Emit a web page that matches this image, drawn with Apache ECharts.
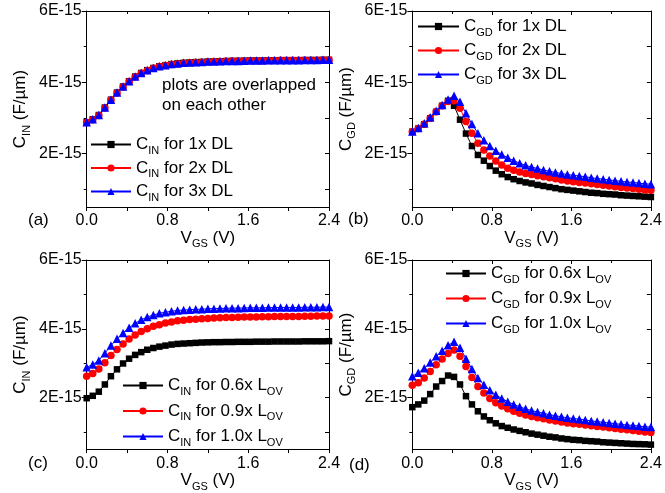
<!DOCTYPE html>
<html><head><meta charset="utf-8">
<script src="https://cdn.jsdelivr.net/npm/echarts@6/dist/echarts.min.js"></script>
<style>html,body{margin:0;padding:0;background:#fff}#c{width:665px;height:493px}</style>
</head><body><div id="c"></div>
<script>
// V_GS sample points (V)
const vgs = [0.00,0.06,0.12,0.18,0.24,0.30,0.36,0.42,0.48,0.54,0.60,0.66,0.72,0.78,0.84,0.90,0.96,1.02,1.08,1.14,1.20,1.26,1.32,1.38,1.44,1.50,1.56,1.62,1.68,1.74,1.80,1.86,1.92,1.98,2.04,2.10,2.16,2.22,2.28,2.34,2.40];

// values in units of 1E-15 F/um
// (a) C_IN for 1x / 2x / 3x DL (overlapped)
const cinA_1x = [2.88,2.96,3.08,3.29,3.51,3.71,3.88,4.03,4.16,4.26,4.34,4.40,4.45,4.48,4.51,4.53,4.545,4.555,4.565,4.57,4.58,4.585,4.59,4.595,4.60,4.60,4.605,4.61,4.61,4.61,4.615,4.615,4.62,4.62,4.62,4.62,4.625,4.625,4.625,4.63,4.63];
const cinA_2x = [2.87,2.95,3.07,3.28,3.50,3.70,3.87,4.02,4.15,4.25,4.33,4.39,4.44,4.47,4.50,4.52,4.535,4.545,4.555,4.565,4.57,4.58,4.585,4.59,4.595,4.595,4.60,4.605,4.605,4.605,4.61,4.61,4.615,4.615,4.615,4.615,4.62,4.62,4.62,4.625,4.625];
const cinA_3x = [2.88,2.96,3.08,3.29,3.51,3.71,3.88,4.03,4.16,4.26,4.34,4.40,4.45,4.48,4.51,4.53,4.545,4.555,4.565,4.57,4.58,4.585,4.59,4.595,4.60,4.60,4.605,4.61,4.61,4.61,4.615,4.615,4.62,4.62,4.62,4.62,4.625,4.625,4.625,4.63,4.63];
// (b) C_GD for 1x / 2x / 3x DL
const cgdB_1x = [2.61,2.70,2.82,2.99,3.17,3.34,3.48,3.34,2.95,2.56,2.21,1.96,1.80,1.65,1.52,1.42,1.34,1.28,1.23,1.19,1.16,1.12,1.09,1.06,1.03,1.00,0.98,0.96,0.94,0.92,0.90,0.89,0.87,0.86,0.85,0.83,0.82,0.81,0.80,0.79,0.78];
const cgdB_2x = [2.61,2.70,2.82,2.99,3.17,3.34,3.46,3.48,3.27,2.90,2.57,2.29,2.10,1.93,1.79,1.68,1.59,1.53,1.48,1.44,1.41,1.38,1.35,1.32,1.29,1.26,1.23,1.21,1.19,1.17,1.15,1.13,1.11,1.09,1.07,1.05,1.03,1.02,1.00,0.98,0.97];
const cgdB_3x = [2.62,2.72,2.85,3.02,3.20,3.36,3.52,3.62,3.45,3.13,2.83,2.57,2.37,2.21,2.08,1.97,1.88,1.80,1.73,1.67,1.62,1.58,1.54,1.50,1.47,1.44,1.41,1.39,1.37,1.35,1.32,1.30,1.28,1.26,1.24,1.22,1.20,1.19,1.17,1.15,1.14];
// (c) C_IN for 0.6x / 0.9x / 1.0x L_OV
const cinC_06 = [1.98,2.05,2.17,2.38,2.62,2.82,2.99,3.13,3.24,3.32,3.39,3.44,3.48,3.51,3.54,3.56,3.57,3.58,3.59,3.60,3.605,3.61,3.61,3.615,3.615,3.62,3.62,3.62,3.625,3.625,3.625,3.63,3.63,3.63,3.63,3.63,3.635,3.635,3.635,3.635,3.64];
const cinC_09 = [2.62,2.70,2.83,3.01,3.22,3.40,3.56,3.70,3.82,3.92,4.00,4.07,4.12,4.17,4.20,4.23,4.25,4.27,4.28,4.29,4.30,4.31,4.32,4.325,4.33,4.335,4.34,4.34,4.345,4.35,4.35,4.355,4.355,4.36,4.36,4.36,4.365,4.365,4.37,4.37,4.37];
const cinC_10 = [2.88,2.96,3.08,3.29,3.51,3.71,3.88,4.03,4.16,4.26,4.34,4.40,4.45,4.48,4.51,4.53,4.545,4.555,4.565,4.57,4.58,4.585,4.59,4.595,4.60,4.60,4.605,4.61,4.61,4.61,4.615,4.615,4.62,4.62,4.62,4.62,4.625,4.625,4.625,4.63,4.63];
// (d) C_GD for 0.6x / 0.9x / 1.0x L_OV
const cgdD_06 = [1.72,1.80,1.91,2.10,2.32,2.48,2.64,2.60,2.38,2.04,1.80,1.60,1.45,1.34,1.25,1.17,1.12,1.07,1.03,0.99,0.95,0.92,0.89,0.86,0.84,0.81,0.79,0.77,0.76,0.74,0.73,0.72,0.70,0.69,0.68,0.67,0.66,0.65,0.645,0.64,0.63];
const cgdD_09 = [2.36,2.43,2.57,2.76,2.95,3.12,3.28,3.38,3.20,2.90,2.58,2.32,2.13,1.97,1.85,1.75,1.67,1.60,1.54,1.49,1.45,1.41,1.38,1.35,1.32,1.29,1.26,1.24,1.22,1.20,1.18,1.16,1.14,1.12,1.10,1.08,1.06,1.04,1.02,1.00,0.98];
const cgdD_10 = [2.62,2.72,2.85,3.02,3.20,3.36,3.52,3.62,3.45,3.13,2.83,2.57,2.37,2.21,2.08,1.97,1.88,1.80,1.73,1.67,1.62,1.58,1.54,1.50,1.47,1.44,1.41,1.39,1.37,1.35,1.32,1.30,1.28,1.26,1.24,1.22,1.20,1.19,1.17,1.15,1.14];

// axis ticks
const yLabelValues = [2, 4, 6];
const yMinorValues = [1, 3, 5];
const yAllValues = [1, 2, 3, 4, 5, 6];
const xTickStep = 0.8;

const FONT = '"Liberation Sans", Arial, sans-serif';
const rich = {
  n: {fontSize: 17, fontFamily: FONT, color: '#000', lineHeight: 20},
  s: {fontSize: 11, fontFamily: FONT, color: '#000', lineHeight: 11, padding: [6, 0, -6, 0]}
};

const grids = [
  {left: 86.7, top: 11, width: 242.3, height: 196},
  {left: 412.3, top: 11, width: 242.7, height: 196},
  {left: 86.7, top: 260, width: 242.3, height: 195},
  {left: 412.3, top: 260, width: 242.7, height: 195}
];
const yNames = ['{n|C}{s|IN}{n| (F/µm)}', '{n|C}{s|GD}{n| (F/µm)}', '{n|C}{s|IN}{n| (F/µm)}', '{n|C}{s|GD}{n| (F/µm)}'];
const blk = {color: '#000', width: 1};

const xAxes = [], yAxes = [];
grids.forEach((g, i) => {
  xAxes.push({
    gridIndex: i, type: 'value', min: 0, max: 2.4, interval: xTickStep, position: 'bottom',
    axisLine: {onZero: false, lineStyle: blk},
    axisTick: {length: 4, lineStyle: blk},
    minorTick: {show: true, splitNumber: 2, length: 4, lineStyle: blk},
    splitLine: {show: false},
    axisLabel: {fontSize: 16, fontFamily: FONT, color: '#000', margin: 6, formatter: v => v.toFixed(1)},
    name: '{n|V}{s|GS}{n| (V)}', nameLocation: 'middle', nameGap: 12,
    nameTextStyle: {rich: rich}
  });
  xAxes.push({
    gridIndex: i, type: 'value', min: 0, max: 2.4, interval: xTickStep, position: 'top',
    axisLine: {onZero: false, lineStyle: blk},
    axisTick: {inside: true, length: 4, lineStyle: blk},
    minorTick: {show: true, splitNumber: 2, length: 3, lineStyle: blk},
    splitLine: {show: false}, axisLabel: {show: false}
  });
  yAxes.push({
    gridIndex: i, type: 'value', min: 0.5, max: 6, position: 'left',
    axisLine: {onZero: false, lineStyle: blk},
    axisTick: {customValues: yLabelValues, length: 5, lineStyle: blk},
    axisLabel: {customValues: yLabelValues, fontSize: 16, fontFamily: FONT, color: '#000', margin: 5, formatter: v => v + 'E-15'},
    splitLine: {show: false},
    name: yNames[i], nameLocation: 'middle', nameRotate: 90, nameGap: 56,
    nameTextStyle: {rich: rich}
  });
  yAxes.push({
    gridIndex: i, type: 'value', min: 0.5, max: 6, position: 'left',
    axisLine: {show: false},
    axisTick: {customValues: yMinorValues, length: 3, lineStyle: blk},
    axisLabel: {show: false}, splitLine: {show: false}
  });
  yAxes.push({
    gridIndex: i, type: 'value', min: 0.5, max: 6, position: 'right',
    axisLine: {onZero: false, lineStyle: blk},
    axisTick: {customValues: yAllValues, inside: true, length: 4, lineStyle: blk},
    axisLabel: {show: false}, splitLine: {show: false}
  });
});

const styles = {
  k: {color: '#000000', symbol: 'rect', size: 6.5},
  r: {color: '#ff0000', symbol: 'circle', size: 7.5},
  b: {color: '#0000ff', symbol: 'triangle', size: 8.5}
};
const seriesDefs = [
  {id: 'a1', g: 0, st: 'k', data: cinA_1x, label: '{n|C}{s|IN}{n| for 1x DL}'},
  {id: 'a2', g: 0, st: 'r', data: cinA_2x, label: '{n|C}{s|IN}{n| for 2x DL}'},
  {id: 'a3', g: 0, st: 'b', data: cinA_3x, label: '{n|C}{s|IN}{n| for 3x DL}'},
  {id: 'b1', g: 1, st: 'k', data: cgdB_1x, label: '{n|C}{s|GD}{n| for 1x DL}'},
  {id: 'b2', g: 1, st: 'r', data: cgdB_2x, label: '{n|C}{s|GD}{n| for 2x DL}'},
  {id: 'b3', g: 1, st: 'b', data: cgdB_3x, label: '{n|C}{s|GD}{n| for 3x DL}'},
  {id: 'c1', g: 2, st: 'k', data: cinC_06, label: '{n|C}{s|IN}{n| for 0.6x L}{s|OV}'},
  {id: 'c2', g: 2, st: 'r', data: cinC_09, label: '{n|C}{s|IN}{n| for 0.9x L}{s|OV}'},
  {id: 'c3', g: 2, st: 'b', data: cinC_10, label: '{n|C}{s|IN}{n| for 1.0x L}{s|OV}'},
  {id: 'd1', g: 3, st: 'k', data: cgdD_06, label: '{n|C}{s|GD}{n| for 0.6x L}{s|OV}'},
  {id: 'd2', g: 3, st: 'r', data: cgdD_09, label: '{n|C}{s|GD}{n| for 0.9x L}{s|OV}'},
  {id: 'd3', g: 3, st: 'b', data: cgdD_10, label: '{n|C}{s|GD}{n| for 1.0x L}{s|OV}'}
];
const labelMap = {};
seriesDefs.forEach(d => labelMap[d.id] = d.label);

const series = seriesDefs.map(d => {
  const s = styles[d.st];
  return {
    name: d.id, type: 'line', xAxisIndex: d.g * 2, yAxisIndex: d.g * 3,
    data: vgs.map((x, j) => [x, d.data[j]]),
    symbol: s.symbol, symbolSize: s.size, showAllSymbol: true,
    lineStyle: {color: s.color, width: 1}, itemStyle: {color: s.color},
    emphasis: {disabled: true}, animation: false
  };
});

const legendBase = {
  orient: 'vertical', itemHeight: 9,
  formatter: n => labelMap[n], textStyle: {rich: rich}, selectedMode: false, padding: 0
};
const legends = [
  Object.assign({}, legendBase, {left: 90, top: 136, itemWidth: 40, itemGap: 3.5, data: ['a1', 'a2', 'a3']}),
  Object.assign({}, legendBase, {left: 417, top: 18, itemWidth: 41, itemGap: 4, data: ['b1', 'b2', 'b3']}),
  Object.assign({}, legendBase, {left: 122, top: 377, itemWidth: 40, itemGap: 5.5, data: ['c1', 'c2', 'c3']}),
  Object.assign({}, legendBase, {left: 445, top: 265, itemWidth: 40, itemGap: 5, data: ['d1', 'd2', 'd3']})
];

const txt = (t, x, y) => ({type: 'text', x: x, y: y, silent: true,
  style: {text: t, fontSize: 17, fontFamily: FONT, fill: '#000', verticalAlign: 'middle'}});

const chart = echarts.init(document.getElementById('c'), null, {renderer: 'canvas'});
chart.setOption({
  backgroundColor: '#fff',
  animation: false,
  grid: grids,
  xAxis: xAxes,
  yAxis: yAxes,
  legend: legends,
  series: series,
  graphic: [
    txt('(a)', 28, 220), txt('(b)', 348, 219), txt('(c)', 28, 463), txt('(d)', 349, 465),
    txt('plots are overlapped', 162, 85), txt('on each other', 162, 105)
  ]
});
</script></body></html>
